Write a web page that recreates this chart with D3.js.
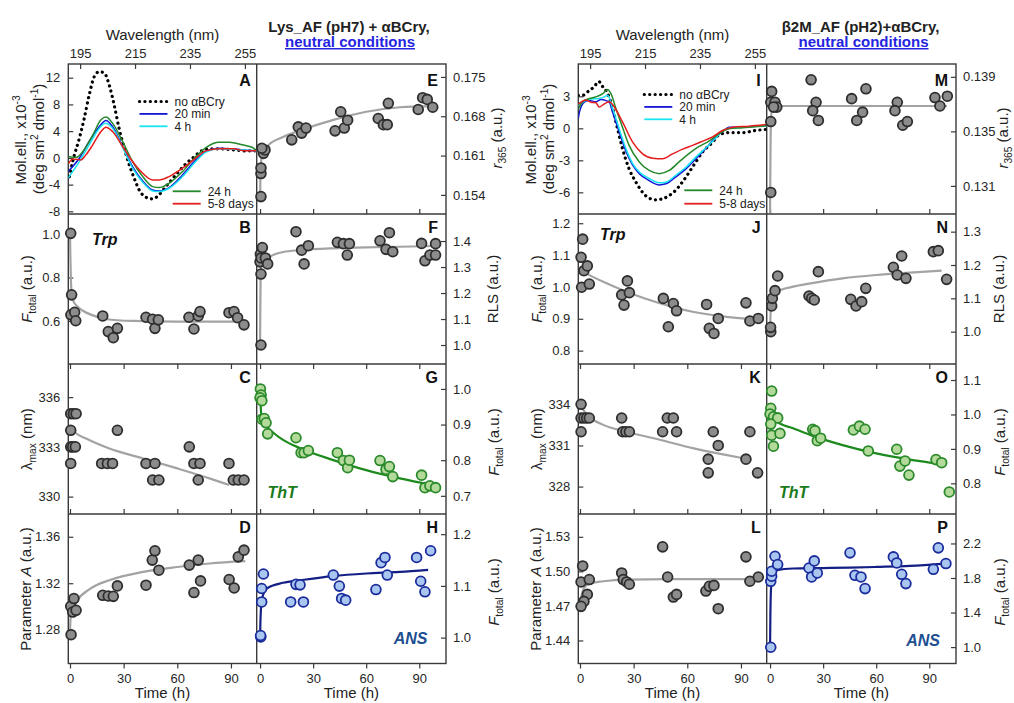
<!DOCTYPE html>
<html><head><meta charset="utf-8">
<script src="https://cdn.jsdelivr.net/npm/d3@7"></script>
<style>body{margin:0;background:#fff}</style>
</head><body><script>
// ---------------- DATA ----------------
const TIME_TICKS = [0, 30, 60, 90];
const WL_TICKS = [195, 215, 235, 255];
const CD_LABELS = ["no \u03B1BCry", "20 min", "4 h", "24 h", "5-8 days"];

// Panel A (Lys CD)
const A_noCry_wl = [191.1,192.3,194.7,196.5,198.3,200.2,202,203.8,205.6,207.4,209.2,211.1,212.9,214.7,216.5,219,221.4,223.8,226.2,228.5,231,233.5,235.9,238.4,240.8,245.6,250.5,255.3,259.3];
const A_noCry_v  = [-2.8,-0.55,2.9,5.9,9.4,12.2,12.9,12.7,10.9,7.9,4.4,1.4,-1.05,-3.05,-4.8,-5.9,-6.15,-5.5,-4.3,-3.2,-2.0,-0.9,-0.05,0.8,1.35,1.35,1.2,1.05,1.05];
const A_20m_wl = [190.7,194.7,198.3,202,204.4,206.8,210.5,214.1,217.8,221.4,223.8,227.4,232.3,237.1,240.8,245.6,250.5,255.3,259.3];
const A_20m_v  = [-2.0,-0.05,2.45,4.7,5.6,4.7,1.7,-1.3,-3.45,-4.8,-4.95,-4.45,-2.55,-0.3,1.05,1.45,1.35,1.15,1.05];
const A_4h_wl = [190.7,194.7,198.3,202,204.2,206.8,210.5,214.1,217.8,221.4,223.8,227.4,232.3,237.1,240.8,245.6,250.5,255.3,259.3];
const A_4h_v  = [-3.0,-0.55,1.95,4.45,5.2,4.45,1.55,-1.55,-3.65,-4.95,-5.05,-4.55,-2.8,-0.55,0.85,1.35,1.3,1.15,1.05];
const A_24h_wl = [190.7,193.5,196,199.6,202.6,204.4,206.8,210.5,214.1,217.8,221.4,223.8,227.4,232.3,237.1,240.8,245.6,249.3,254.1,257.8,259.3];
const A_24h_v  = [0.2,0.05,0.95,3.4,5.7,6.1,5.2,2.45,-0.55,-2.8,-4.3,-4.45,-3.8,-2.05,0.2,1.55,2.35,2.35,1.95,1.55,1.05];
const A_5d_wl = [190.7,192.3,195.3,197.1,199.6,202.6,204.4,206.8,210.5,214.1,217.8,221.4,223.8,227.4,232.3,237.1,240.8,245.6,250.5,255.3,259.3];
const A_5d_v  = [-0.9,-0.15,-0.3,0.45,1.95,3.95,4.6,3.95,1.7,-0.55,-2.3,-3.3,-3.3,-2.8,-1.55,-0.05,1.05,1.35,1.35,1.05,1.05];
const A_ticks = [12, 8, 4, 0, -4, -8];

// Panel I (b2M CD)
const I_noCry_wl = [190.7,192.3,194.7,196.5,198.1,199.6,201.4,203.2,205,206.8,209.2,211.7,214.1,216.5,218.9,221.4,223.8,226.2,228.7,231.1,233.5,236,239.6,242,245.6,250.5,255.3,259.3];
const I_noCry_v  = [3.1,3.1,3.55,3.9,4.4,3.9,3.25,1.85,-0.05,-1.9,-3.8,-5.05,-6.0,-6.55,-6.7,-6.6,-6.3,-5.8,-5.0,-4.1,-3.15,-2.2,-1.3,-0.6,-0.4,-0.4,-0.2,-0.1];
const I_20m_wl = [190.7,191.1,192.9,194.7,197.1,198.95,200.8,202,203.2,205.6,208.1,210.5,212.9,216.5,220.2,222.6,226.2,229.9,233.5,237.1,240.8,243.2,245.6,250.5,255.3,259.3];
const I_20m_v  = [0.9,1.5,2.45,2.6,2.5,2.7,2.6,2.45,1.5,-0.35,-2.2,-3.45,-4.25,-4.9,-5.3,-5.2,-4.55,-3.8,-2.85,-1.9,-0.8,-0.3,0.1,0.1,0.2,0.25];
const I_4h_wl = [190.7,192.3,195.3,198.3,200.2,201.4,203.2,205.6,208.1,210.5,212.9,216.5,220.2,222.6,226.2,229.9,233.5,237.1,240.8,244.4,250.5,259.3];
const I_4h_v  = [2.1,2.45,2.75,2.8,2.95,3.1,1.85,-0.05,-1.95,-3.3,-4.1,-4.7,-5.1,-5.05,-4.4,-3.65,-2.7,-1.85,-0.9,-0.05,0.1,0.25];
const I_24h_wl = [190.7,192.3,194.7,197.1,199.6,201.4,202.6,204.4,206.8,209.2,212.9,216.5,220.2,223.8,227.4,231.1,234.7,238.3,242,245.6,250.5,259.3];
const I_24h_v  = [1.8,2.5,2.8,2.95,3.25,3.65,3.25,1.85,0.1,-1.6,-3.15,-3.95,-4.25,-3.95,-3.15,-2.35,-1.7,-1.2,-0.5,-0.05,0.05,0.25];
const I_5d_wl = [190.7,191.7,193.5,195.3,197.1,198.3,200.2,202,203.8,206.8,210.5,214.1,217.8,221.4,225,228.7,232.3,236,239.6,243.2,246.9,252.9,259.3];
const I_5d_v  = [2.25,2.45,2.65,2.45,2.4,2.0,2.3,2.5,2.0,0.6,-1.3,-2.4,-2.8,-2.85,-2.4,-1.95,-1.6,-1.2,-0.8,-0.2,0.1,0.2,0.35];
const I_ticks = [3, 0, -3, -6];

// Lys panels (time in h)
const B_t = [0.4,0.9,0.5,2.6,3.2,18.3,21.4,24.2,26.5,42.5,46.2,47.5,49.4,66.5,69.3,71.7,72.7,88.9,91.7,93.7,97.3];
const B_v = [1.003,0.72,0.628,0.64,0.601,0.623,0.551,0.523,0.566,0.617,0.608,0.566,0.605,0.617,0.563,0.623,0.643,0.638,0.643,0.615,0.582];
const B_fit_t = [0,0.2,0.5,1,2,4,7,12,20,35,60,97];
const B_fit_v = [1.0,0.9,0.79,0.725,0.69,0.668,0.648,0.628,0.609,0.6,0.597,0.597];
const B_ticks = [0.6, 0.8, 1.0];

const C_t = [0.4,1.9,3.4,0.4,0.4,1.5,3.0,0.4,17.7,20.9,23.8,26.5,42.5,46.2,47.5,49.7,66.7,69.3,71.7,72.7,88.9,91.3,94.1,97.3];
const C_v = [335,335,335,334,333,333,333,332,332,332,332,334,332,331,332,331,333,332,331,332,332,331,331,331];
const C_fit_t = [0,3,9,22,41,60,78,89];
const C_fit_v = [334.2,333.85,333.5,332.9,332.3,331.7,331.1,330.7];
const C_ticks = [336, 333, 330];

const D_t = [0.6,0.4,2.2,1.5,3.4,18.3,21.4,24.2,26.5,42.5,46,47.5,49.7,66.7,69.3,71.7,73,89,91.8,94.1,97.3];
const D_v = [1.2757,1.3001,1.3068,1.2952,1.2967,1.3096,1.309,1.3087,1.3177,1.3183,1.3399,1.3479,1.3312,1.3356,1.312,1.3399,1.322,1.3232,1.3159,1.3427,1.3485];
const D_fit_t = [0,0.3,1,3.7,11,22,41,60,78,98];
const D_fit_v = [1.277,1.29,1.298,1.305,1.315,1.3226,1.3298,1.334,1.337,1.339];
const D_ticks = [1.36, 1.32, 1.28];

const E_t = [0.5,0.5,0.5,1.9,2.8,1.0,17.9,21.6,23.5,26,42.4,45.6,47.6,49.5,66.8,69.7,71.9,72.5,89.4,91.9,94.5,97.6];
const E_v = [0.1537,0.1578,0.1588,0.1614,0.1620,0.1623,0.1638,0.1661,0.1650,0.1659,0.1654,0.1688,0.1659,0.1673,0.1676,0.1665,0.1665,0.1703,0.1692,0.1713,0.1710,0.1696];
const E_fit_t = [0,0.2,0.5,1,2,4,13,23,41,60,79,98];
const E_fit_v = [0.1530,0.1570,0.1595,0.1608,0.1617,0.1626,0.1643,0.1655,0.1673,0.1688,0.1696,0.1698];
const E_ticks = [0.175, 0.168, 0.161, 0.154];

const F_t = [0.5,0.5,0.0,0.2,0.6,1.3,3.0,4.3,20.3,23.5,24.9,27.3,43.7,47.1,49.3,50.5,67.8,71.2,73.1,75,91.3,93.2,96,99.2,99.2];
const F_v = [1.0,1.273,1.32,1.35,1.335,1.375,1.335,1.312,1.436,1.365,1.312,1.382,1.395,1.39,1.346,1.39,1.401,1.368,1.432,1.359,1.391,1.324,1.346,1.346,1.39];
const F_fit_t = [0,0.1,0.3,0.8,2,4,8,13,23,41,60,79,98];
const F_fit_v = [1.0,1.1,1.25,1.31,1.325,1.333,1.348,1.358,1.365,1.372,1.376,1.378,1.381];
const F_ticks = [1.4, 1.3, 1.2, 1.1, 1.0];

const G_t = [0.2,0.6,0.0,1.0,1.1,2.4,3.4,4.3,20.3,23.2,24.9,27.3,43.7,47.1,49.5,50.5,67.8,71.2,73.1,75,91.3,93.2,96,99.2];
const G_v = [1.0,0.983,0.975,0.967,0.915,0.917,0.905,0.874,0.863,0.821,0.821,0.827,0.821,0.799,0.779,0.8,0.799,0.774,0.782,0.754,0.758,0.723,0.728,0.723];
const G_fit_t = [0,0.3,1,3.8,8,13,23,41,60,79,98];
const G_fit_v = [1.005,0.96,0.915,0.894,0.875,0.857,0.833,0.801,0.772,0.749,0.730];
const G_ticks = [1.0, 0.9, 0.8, 0.7];

const H_t = [0.4,0.3,0.9,0.9,1.9,17.3,20.3,22.6,24.5,41.4,44.8,46.1,48.4,65.5,68.4,70.6,71.9,88.5,90.8,93.2,96.4];
const H_v = [1.0012,1.004,1.069,1.095,1.123,1.069,1.103,1.102,1.069,1.121,1.0996,1.0757,1.0725,1.093,1.145,1.155,1.121,1.155,1.109,1.0886,1.168];
const H_fit_t = [0,0.2,0.6,1.5,3.8,13,23,41,60,79,95];
const H_fit_v = [1.0,1.03,1.06,1.08,1.095,1.106,1.111,1.119,1.124,1.127,1.131];
const H_ticks = [1.2, 1.1, 1.0];

// b2M panels
const J_t = [1.5,0.6,2.2,4.1,0.9,5.2,23.3,24.6,26.5,27.6,46.6,49.4,52.2,54,70.8,72.3,74.9,77.3,92.8,95,99.7];
const J_v = [1.15,1.093,1.051,1.066,0.999,1.009,0.975,0.943,1.019,0.982,0.964,0.875,0.948,0.925,0.945,0.87,0.854,0.901,0.95,0.893,0.901];
const J_fit_t = [0,13,26,45,63,82,95];
const J_fit_v = [1.052,1.016,0.985,0.948,0.922,0.906,0.899];
const J_ticks = [1.2, 1.1, 1.0, 0.9, 0.8];

const K_t = [0.6,0.6,2.2,3.7,5.2,0.6,23.3,23.9,25.7,27.6,46.2,48.8,52.2,54,71.7,71.7,74.5,77.3,92.8,95,99.3];
const K_v = [334,333,333,333,333,332,333,332,332,332,332,333,333,332,330,329,332,331,330,332,329];
const K_fit_t = [0,5,13,26,45,63,80,92];
const K_fit_v = [333.9,333.1,332.5,332.0,331.4,330.8,330.35,330.05];
const K_ticks = [334, 331, 328];

const L_t = [1.5,0.6,5.2,4.1,2.2,0.6,23.3,24.2,26.1,27.6,46.2,49,52.2,54,70.4,72.3,74.9,77.3,92.8,95,99.7];
const L_v = [1.5047,1.4908,1.4929,1.48,1.4739,1.4696,1.4986,1.4929,1.4908,1.4888,1.5213,1.4951,1.4777,1.48,1.4829,1.487,1.4878,1.4676,1.5126,1.4914,1.4951];
const L_fit_t = [0,0.5,1.5,3,6,13,26,50,75,99];
const L_fit_v = [1.47,1.476,1.483,1.487,1.4895,1.4914,1.4929,1.4932,1.4932,1.4932];
const L_ticks = [1.53, 1.50, 1.47, 1.44];

const M_t = [0.9,0.4,2.8,3.8,2.0,0.4,0.4,23.2,26,24.1,27.3,46.1,54.2,52.3,49,71.9,70.6,75,77.6,93.2,96,100.2];
const M_v = [0.13793,0.13713,0.13713,0.13678,0.13678,0.13572,0.13052,0.13878,0.13713,0.13652,0.1358,0.1374,0.13812,0.13641,0.1358,0.13713,0.13652,0.13545,0.13572,0.13748,0.13686,0.13758];
const M_fit_t = [0,0.3,1,3,10,30,60,100];
const M_fit_v = [0.1290,0.1345,0.1366,0.13686,0.13686,0.13686,0.13686,0.13686];
const M_ticks = [0.139, 0.135, 0.131];

const N_t = [0.4,0.3,0.9,1.3,2.8,4.3,22,23.5,25,27.3,45.6,48.6,51.8,54.1,69.7,71.9,74.4,76.8,92.3,95.1,99.8];
const N_v = [1.0,1.013,1.077,1.1,1.123,1.167,1.107,1.1,1.095,1.18,1.097,1.077,1.09,1.13,1.193,1.17,1.227,1.16,1.24,1.243,1.157];
const N_fit_t = [0,0.2,0.6,1.5,3.8,13,23,41,60,79,97];
const N_fit_v = [0.99,1.04,1.08,1.105,1.12,1.135,1.145,1.16,1.17,1.177,1.183];
const N_ticks = [1.3, 1.2, 1.1, 1.0];

const O_t = [0.9,0.4,0.0,1.9,4.3,0.4,0.9,5.6,1.9,24.1,25.4,26.7,28.6,47.1,50.5,53.7,55.5,71.6,73.4,76.3,78.5,93.8,97,101.3];
const O_v = [1.068,1.0177,1.001,0.993,0.99,0.972,0.94,0.945,0.908,0.957,0.953,0.924,0.931,0.955,0.966,0.957,0.894,0.899,0.85,0.865,0.824,0.869,0.86,0.775];
const O_fit_t = [0,1,3.8,13,23,41,60,79,98];
const O_fit_v = [1.01,0.995,0.979,0.96,0.94,0.911,0.887,0.869,0.855];
const O_ticks = [1.1, 1.0, 0.9, 0.8];

const P_t = [0.4,0.4,0.9,0.9,2.8,4.3,22,23.5,25,26.7,45.2,48,51.4,53.7,69.7,71.6,74.4,76.8,92.3,95.1,99.4];
const P_v = [0.998,1.762,1.82,1.878,2.052,1.956,1.916,1.812,1.998,1.858,2.091,1.831,1.812,1.677,2.044,1.974,1.843,1.735,1.901,2.149,1.967];
const P_fit_t = [0,0.2,0.6,1.5,3.8,13,30,45,60,79,99];
const P_fit_v = [1.0,1.4,1.7,1.84,1.89,1.91,1.915,1.92,1.928,1.94,1.967];
const P_ticks = [2.2, 1.8, 1.4, 1.0];

// ---------------- LAYOUT ----------------
const FONT = '"Liberation Sans", Arial, Helvetica, sans-serif';
const W = 1014, H = 703;
const BLK = [{x0:68.3, xm:256.7, x1:446}, {x0:578.3, xm:766.7, x1:956}];
const ROW = [64, 214, 364, 514, 663.5];
const T_DOM_L = [-0.95, 104.4], T_DOM_R = [-1.9, 105.1];
const WL_DOM = [190.7, 259.3];
const AXC = "#3a3a3a";

const svg = d3.select("body").append("svg").attr("width", W).attr("height", H)
  .style("font-family", FONT);
const defs = svg.append("defs");
let cid = 0;
function clipRect(x, y, w, h) {
  const id = "clip" + (cid++);
  defs.append("clipPath").attr("id", id).append("rect").attr("x", x).attr("y", y).attr("width", w).attr("height", h);
  return "url(#" + id + ")";
}
function styleAxis(g) {
  g.select(".domain").remove();
  g.attr("font-family", FONT).attr("font-size", 13).attr("color", "#262626");
  g.selectAll(".tick line").attr("stroke", AXC).attr("stroke-width", 1.2);
}
const STY = {
  gray:  {fill:"#8c8c8c", stroke:"#2e2e2e", line:"#a3a3a3"},
  green: {fill:"#b3da9a", stroke:"#2b8a2b", line:"#1d8a1d"},
  blue:  {fill:"#a9c6f0", stroke:"#1b2c9c", line:"#141f86"}
};

// rotated label
function vlabel(x, y, parts, size) {
  size = size || 15;
  const t = svg.append("text").attr("transform", `translate(${x + 5},${y}) rotate(-90)`)
    .attr("text-anchor", "middle").attr("font-size", size).attr("fill", "#222");
  let shift = 0;
  parts.forEach(p => {
    const s = t.append("tspan").text(p.s);
    let target = 0;
    if (p.it) s.attr("font-style", "italic");
    if (p.sub) { s.attr("font-size", size * 0.68); target = 4; }
    if (p.sup) { s.attr("font-size", size * 0.68); target = -6; }
    if (target !== shift) { s.attr("dy", target - shift); shift = target; }
  });
}

// ---------------- FRAMES ----------------
BLK.forEach(b => {
  const g = svg.append("g").attr("stroke", AXC).attr("stroke-width", 1.4).attr("fill", "none");
  g.append("rect").attr("x", b.x0).attr("y", ROW[0]).attr("width", b.x1 - b.x0).attr("height", ROW[4] - ROW[0]);
  g.append("line").attr("x1", b.xm).attr("x2", b.xm).attr("y1", ROW[0]).attr("y2", ROW[4]);
  [1, 2, 3].forEach(r => g.append("line").attr("x1", b.x0).attr("x2", b.x1).attr("y1", ROW[r]).attr("y2", ROW[r]));
});

// ---------------- CD PANELS ----------------
const CD_COLORS = ["#000000", "#1515d6", "#19e3f0", "#23892a", "#e51c1c"];
function cdPanel(bi, dom, ticks, series, legendPos) {
  const b = BLK[bi];
  const x = d3.scaleLinear().domain(WL_DOM).range([b.x0, b.xm]);
  const y = d3.scaleLinear().domain(dom).range([ROW[1], ROW[0]]);
  svg.append("g").attr("transform", `translate(0,${ROW[0]})`)
    .call(d3.axisTop(x).tickValues(WL_TICKS).tickSizeInner(-5).tickSizeOuter(0).tickPadding(6))
    .call(styleAxis);
  svg.append("g").attr("transform", `translate(${b.x0},0)`)
    .call(d3.axisLeft(y).tickValues(ticks).tickFormat(d => String(d)).tickSizeInner(-5).tickSizeOuter(0).tickPadding(8))
    .call(styleAxis);
  const g = svg.append("g").attr("clip-path", clipRect(b.x0, ROW[0], b.xm - b.x0, ROW[1] - ROW[0]));
  const line = d3.line().x(d => x(d[0])).y(d => y(d[1])).curve(d3.curveMonotoneX);
  series.forEach((s, i) => {
    const p = g.append("path").datum(d3.zip(s[0], s[1])).attr("d", line).attr("fill", "none")
      .attr("stroke", CD_COLORS[i]);
    if (i === 0) p.attr("stroke-width", 3.2).attr("stroke-dasharray", "0.1 5.3").attr("stroke-linecap", "round");
    else p.attr("stroke-width", 1.5);
  });
  // legend
  const lg = svg.append("g").attr("font-size", 12).attr("fill", "#222");
  CD_LABELS.forEach((lab, i) => {
    const L = i < 3 ? legendPos[0] : legendPos[1];
    const yy = L.y + (i < 3 ? i : i - 3) * L.dy;
    const ln = lg.append("line").attr("x1", L.x).attr("x2", L.x + 28).attr("y1", yy).attr("y2", yy)
      .attr("stroke", CD_COLORS[i]);
    if (i === 0) ln.attr("stroke-width", 3.2).attr("stroke-dasharray", "0.1 5.3").attr("stroke-linecap", "round");
    else ln.attr("stroke-width", 1.8);
    lg.append("text").attr("x", L.x + 35).attr("y", yy + 4.2).text(lab);
  });
}
cdPanel(0, [-8.4, 14.05], A_ticks,
  [[A_noCry_wl, A_noCry_v], [A_20m_wl, A_20m_v], [A_4h_wl, A_4h_v], [A_24h_wl, A_24h_v], [A_5d_wl, A_5d_v]],
  [{x:139.5, y:101.5, dy:12.4}, {x:172.7, y:191.3, dy:12.4}]);
cdPanel(1, [-8.03, 6.03], I_ticks,
  [[I_noCry_wl, I_noCry_v], [I_20m_wl, I_20m_v], [I_4h_wl, I_4h_v], [I_24h_wl, I_24h_v], [I_5d_wl, I_5d_v]],
  [{x:644.3, y:94.5, dy:12.4}, {x:684.3, y:190.3, dy:13.4}]);

// ---------------- TIME PANELS ----------------
function timePanel(p) {
  const b = BLK[p.blk];
  const left = p.col === 0;
  const xa = left ? b.x0 : b.xm, xb = left ? b.xm : b.x1;
  const y0 = ROW[p.row], y1 = ROW[p.row + 1];
  const x = d3.scaleLinear().domain(left ? T_DOM_L : T_DOM_R).range([xa, xb]);
  const y = d3.scaleLinear().domain(p.dom).range([y1, y0]);
  const fmt = d3.format(p.fmt);
  const ax = (left ? d3.axisLeft(y).tickPadding(8) : d3.axisRight(y).tickPadding(7))
    .tickValues(p.ticks).tickFormat(fmt).tickSizeInner(-5).tickSizeOuter(0);
  svg.append("g").attr("transform", `translate(${left ? xa : xb},0)`).call(ax).call(styleAxis);
  const blank = () => "";
  if (p.row === 0 && !left) {
    svg.append("g").attr("transform", `translate(0,${y1})`)
      .call(d3.axisBottom(x).tickValues(TIME_TICKS).tickFormat(blank).tickSizeInner(-5).tickSizeOuter(0)).call(styleAxis);
  }
  if (p.row === 2) {
    svg.append("g").attr("transform", `translate(0,${y0})`)
      .call(d3.axisTop(x).tickValues(TIME_TICKS).tickFormat(blank).tickSizeInner(-5).tickSizeOuter(0)).call(styleAxis);
    svg.append("g").attr("transform", `translate(0,${y1})`)
      .call(d3.axisBottom(x).tickValues(TIME_TICKS).tickFormat(blank).tickSizeInner(-5).tickSizeOuter(0)).call(styleAxis);
  }
  if (p.row === 3) {
    svg.append("g").attr("transform", `translate(0,${y1})`)
      .call(d3.axisBottom(x).tickValues(TIME_TICKS).tickSizeInner(5).tickSizeOuter(0).tickPadding(5)).call(styleAxis);
    svg.append("text").attr("x", (xa + xb) / 2).attr("y", 698).attr("text-anchor", "middle")
      .attr("font-size", 15).attr("fill", "#222").text("Time (h)");
  }
  const st = STY[p.kind];
  const g = svg.append("g").attr("clip-path", clipRect(xa, y0, xb - xa, y1 - y0));
  g.append("path").datum(d3.zip(p.ft, p.fv))
    .attr("d", d3.line().x(d => x(d[0])).y(d => y(d[1])).curve(d3.curveMonotoneX))
    .attr("fill", "none").attr("stroke", st.line).attr("stroke-width", 2.2);
  svg.append("g").selectAll("circle").data(d3.zip(p.t, p.v)).join("circle")
    .attr("cx", d => x(d[0])).attr("cy", d => y(d[1])).attr("r", 4.9)
    .attr("fill", st.fill).attr("stroke", st.stroke).attr("stroke-width", 1.8);
  // panel letter
  svg.append("text").attr("x", left ? xb - 6 : xb - 8).attr("y", y0 + (p.row === 0 ? 22 : 18.5))
    .attr("text-anchor", "end").attr("font-weight", "bold").attr("font-size", 16).attr("fill", "#111").text(p.letter);
}

const PANELS = [
  {blk:0,col:1,row:0,t:E_t,v:E_v,ft:E_fit_t,fv:E_fit_v,dom:[0.1506,0.1773],ticks:E_ticks,fmt:".3f",kind:"gray",letter:"E"},
  {blk:0,col:0,row:1,t:B_t,v:B_v,ft:B_fit_t,fv:B_fit_v,dom:[0.402,1.092],ticks:B_ticks,fmt:".1f",kind:"gray",letter:"B"},
  {blk:0,col:1,row:1,t:F_t,v:F_v,ft:F_fit_t,fv:F_fit_v,dom:[0.927,1.504],ticks:F_ticks,fmt:".1f",kind:"gray",letter:"F"},
  {blk:0,col:0,row:2,t:C_t,v:C_v,ft:C_fit_t,fv:C_fit_v,dom:[328.95,338.0],ticks:C_ticks,fmt:"d",kind:"gray",letter:"C"},
  {blk:0,col:1,row:2,t:G_t,v:G_v,ft:G_fit_t,fv:G_fit_v,dom:[0.649,1.07],ticks:G_ticks,fmt:".1f",kind:"green",letter:"G"},
  {blk:0,col:0,row:3,t:D_t,v:D_v,ft:D_fit_t,fv:D_fit_v,dom:[1.2509,1.3796],ticks:D_ticks,fmt:".2f",kind:"gray",letter:"D"},
  {blk:0,col:1,row:3,t:H_t,v:H_v,ft:H_fit_t,fv:H_fit_v,dom:[0.95,1.239],ticks:H_ticks,fmt:".1f",kind:"blue",letter:"H"},
  {blk:1,col:1,row:0,t:M_t,v:M_v,ft:M_fit_t,fv:M_fit_v,dom:[0.12894,0.13994],ticks:M_ticks,fmt:".3f",kind:"gray",letter:"M"},
  {blk:1,col:0,row:1,t:J_t,v:J_v,ft:J_fit_t,fv:J_fit_v,dom:[0.758,1.229],ticks:J_ticks,fmt:".1f",kind:"gray",letter:"J"},
  {blk:1,col:1,row:1,t:N_t,v:N_v,ft:N_fit_t,fv:N_fit_v,dom:[0.903,1.353],ticks:N_ticks,fmt:".1f",kind:"gray",letter:"N"},
  {blk:1,col:0,row:2,t:K_t,v:K_v,ft:K_fit_t,fv:K_fit_v,dom:[326.0,336.94],ticks:K_ticks,fmt:"d",kind:"gray",letter:"K"},
  {blk:1,col:1,row:2,t:O_t,v:O_v,ft:O_fit_t,fv:O_fit_v,dom:[0.711,1.1465],ticks:O_ticks,fmt:".1f",kind:"green",letter:"O"},
  {blk:1,col:0,row:3,t:L_t,v:L_v,ft:L_fit_t,fv:L_fit_v,dom:[1.42,1.5498],ticks:L_ticks,fmt:".2f",kind:"gray",letter:"L"},
  {blk:1,col:1,row:3,t:P_t,v:P_v,ft:P_fit_t,fv:P_fit_v,dom:[0.81,2.541],ticks:P_ticks,fmt:".1f",kind:"blue",letter:"P"}
];
PANELS.forEach(timePanel);

// CD panel letters
[["A", BLK[0]], ["I", BLK[1]]].forEach(([l, b]) =>
  svg.append("text").attr("x", b.xm - 6).attr("y", ROW[0] + 22).attr("text-anchor", "end")
    .attr("font-weight", "bold").attr("font-size", 16).attr("fill", "#111").text(l));

// ---------------- TEXTS ----------------
const TITLES = [["Lys_AF (pH7) + \u03B1BCry,", 349], ["\u03B22M_AF (pH2)+\u03B1BCry,", 860.5]];
TITLES.forEach(([s, cx], i) => {
  svg.append("text").attr("x", cx).attr("y", 32).attr("text-anchor", "middle").attr("font-weight", "bold")
    .attr("font-size", 15).attr("fill", "#222").text(s);
  svg.append("text").attr("x", cx + (i ? 3 : 1)).attr("y", 47).attr("text-anchor", "middle").attr("font-weight", "bold")
    .attr("font-size", 15).attr("fill", "#2424e0").attr("text-decoration", "underline").text("neutral conditions");
});
BLK.forEach((b, bi) => {
  svg.append("text").attr("x", (b.x0 + b.xm) / 2).attr("y", 40).attr("text-anchor", "middle")
    .attr("font-size", 15).attr("fill", "#222").text("Wavelength (nm)");
  const xl = b.x0, xr = b.x1;
  const dr = bi ? -4 : 0;
  vlabel(xl - 47, 140, [{s:"Mol.ell., x10"}, {s:"-3", sup:true}]);
  vlabel(xl - 29, 139, [{s:"(deg sm"}, {s:"2", sup:true}, {s:" dmol"}, {s:"-1", sup:true}, {s:")"}]);
  vlabel(xl - 41, 289, [{s:"F", it:true}, {s:"total", sub:true}, {s:" (a.u.)"}]);
  vlabel(xl - 41, 439, [{s:"\u03BB"}, {s:"max", sub:true}, {s:" (nm)"}]);
  vlabel(xl - 42, 589, [{s:"Parameter "}, {s:"A", it:true}, {s:" (a.u.)"}]);
  vlabel(xr + 51 + dr, 138, [{s:"r", it:true}, {s:"365", sub:true}, {s:" (a.u.)"}]);
  vlabel(xr + 47 + dr, 289, [{s:"RLS (a.u.)"}]);
  vlabel(xr + 48 + dr, 442, [{s:"F", it:true}, {s:"total", sub:true}, {s:" (a.u.)"}]);
  vlabel(xr + 48 + dr, 592, [{s:"F", it:true}, {s:"total", sub:true}, {s:" (a.u.)"}]);
  // probe labels
  svg.append("text").attr("x", bi ? 600 : 92).attr("y", bi ? 239.5 : 244.5).attr("font-weight", "bold")
    .attr("font-style", "italic").attr("font-size", 16).attr("fill", "#111").text("Trp");
  svg.append("text").attr("x", bi ? 779 : 267.5).attr("y", 498).attr("font-weight", "bold")
    .attr("font-style", "italic").attr("font-size", 16).attr("fill", "#1a7a1a").text("ThT");
  svg.append("text").attr("x", bi ? 940 : 427.5).attr("y", bi ? 646 : 644).attr("text-anchor", "end").attr("font-weight", "bold")
    .attr("font-style", "italic").attr("font-size", 16).attr("fill", "#1d4f91").text("ANS");
});
</script></body></html>
